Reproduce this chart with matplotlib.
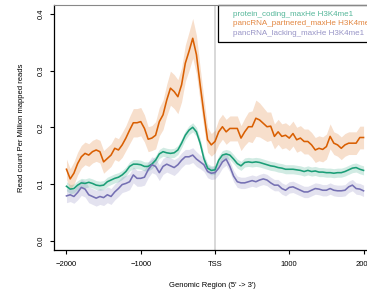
import numpy as np
import matplotlib.pyplot as plt
from matplotlib.patches import Rectangle

plt.rcParams['font.family'] = ['Liberation Sans', 'DejaVu Sans']

# genomic position relative to TSS, 50 bp steps
pos = list(range(-2000, 2001, 50))

partnered = [0.126, 0.109, 0.119, 0.136, 0.148, 0.154, 0.151, 0.157, 0.160, 0.157,
             0.139, 0.145, 0.151, 0.163, 0.160, 0.169, 0.181, 0.195, 0.208, 0.208,
             0.210, 0.198, 0.179, 0.181, 0.186, 0.210, 0.222, 0.248, 0.269, 0.263,
             0.254, 0.275, 0.313, 0.334, 0.357, 0.328, 0.275, 0.225, 0.178, 0.169,
             0.175, 0.192, 0.201, 0.192, 0.198, 0.198, 0.198, 0.181, 0.192, 0.201,
             0.201, 0.216, 0.213, 0.207, 0.201, 0.202, 0.184, 0.192, 0.184, 0.186,
             0.181, 0.189, 0.178, 0.181, 0.175, 0.175, 0.169, 0.160, 0.163, 0.161,
             0.166, 0.184, 0.172, 0.169, 0.163, 0.169, 0.172, 0.172, 0.172, 0.182,
             0.182]
partnered_err = [0.018, 0.018, 0.020, 0.020, 0.020, 0.020, 0.020, 0.020, 0.020, 0.020,
                 0.020, 0.020, 0.020, 0.020, 0.020, 0.022, 0.022, 0.024, 0.025, 0.025,
                 0.025, 0.024, 0.022, 0.022, 0.024, 0.025, 0.026, 0.028, 0.030, 0.030,
                 0.030, 0.030, 0.032, 0.034, 0.035, 0.034, 0.030, 0.026, 0.022, 0.020,
                 0.020, 0.022, 0.022, 0.022, 0.022, 0.022, 0.022, 0.022, 0.024, 0.026,
                 0.028, 0.032, 0.030, 0.028, 0.026, 0.025, 0.022, 0.022, 0.022, 0.022,
                 0.022, 0.022, 0.022, 0.022, 0.022, 0.022, 0.022, 0.022, 0.022, 0.022,
                 0.022, 0.022, 0.020, 0.020, 0.020, 0.020, 0.020, 0.020, 0.020, 0.020,
                 0.020]

coding = [0.096, 0.091, 0.092, 0.098, 0.102, 0.101, 0.103, 0.101, 0.098, 0.097,
          0.098, 0.104, 0.107, 0.110, 0.112, 0.116, 0.122, 0.131, 0.135, 0.135,
          0.134, 0.131, 0.131, 0.135, 0.142, 0.153, 0.157, 0.155, 0.154, 0.155,
          0.160, 0.172, 0.186, 0.195, 0.200, 0.192, 0.172, 0.145, 0.128, 0.124,
          0.125, 0.142, 0.151, 0.153, 0.151, 0.144, 0.136, 0.132, 0.138, 0.139,
          0.138, 0.139, 0.138, 0.136, 0.134, 0.132, 0.131, 0.129, 0.128, 0.126,
          0.126, 0.126, 0.125, 0.124, 0.122, 0.124, 0.122, 0.123, 0.121, 0.121,
          0.120, 0.120, 0.119, 0.120, 0.120, 0.122, 0.125, 0.128, 0.129, 0.126,
          0.124]
coding_err = [0.008] * 81

lacking = [0.079, 0.081, 0.078, 0.085, 0.094, 0.091, 0.081, 0.078, 0.075, 0.078,
           0.076, 0.081, 0.078, 0.086, 0.092, 0.099, 0.101, 0.104, 0.116, 0.110,
           0.110, 0.112, 0.125, 0.134, 0.131, 0.120, 0.131, 0.135, 0.132, 0.129,
           0.134, 0.142, 0.148, 0.148, 0.151, 0.144, 0.139, 0.134, 0.122, 0.119,
           0.120, 0.128, 0.139, 0.144, 0.131, 0.114, 0.104, 0.102, 0.102, 0.104,
           0.106, 0.104, 0.107, 0.109, 0.107, 0.102, 0.098, 0.098, 0.092, 0.089,
           0.094, 0.095, 0.092, 0.089, 0.086, 0.086, 0.089, 0.092, 0.091, 0.089,
           0.089, 0.092, 0.089, 0.088, 0.088, 0.089, 0.095, 0.098, 0.092, 0.091,
           0.088]
lacking_err = [0.012, 0.012, 0.012, 0.013, 0.014, 0.014, 0.014, 0.014, 0.014, 0.014,
               0.014, 0.014, 0.014, 0.014, 0.014, 0.014, 0.014, 0.014, 0.014, 0.014,
               0.014, 0.014, 0.014, 0.014, 0.014, 0.014, 0.014, 0.014, 0.014, 0.014,
               0.013, 0.013, 0.013, 0.013, 0.013, 0.013, 0.012, 0.012, 0.011, 0.011,
               0.011, 0.011, 0.011, 0.011, 0.010, 0.010, 0.010, 0.010, 0.010, 0.010,
               0.010, 0.010, 0.010, 0.010, 0.010, 0.010, 0.010, 0.010, 0.010, 0.010,
               0.010, 0.010, 0.010, 0.010, 0.010, 0.010, 0.010, 0.010, 0.010, 0.010,
               0.010, 0.010, 0.010, 0.010, 0.010, 0.010, 0.010, 0.010, 0.010, 0.010,
               0.010]

labels = ['protein_coding_maxHe H3K4me1',
          'pancRNA_partnered_maxHe H3K4me1',
          'pancRNA_lacking_maxHe H3K4me1']
colors = ['#1b9e77', '#d95f02', '#7570b3']

x_ticks = [-2000, -1000, 0, 1000, 2000]
x_ticklabels = ['\u22122000', '\u22121000', 'TSS', '1000', '2000']
y_ticks = [0.0, 0.1, 0.2, 0.3, 0.4]

fig = plt.figure(figsize=(3.67, 2.96), dpi=100)
ax = fig.add_axes([54 / 367, 46 / 296, 316 / 367, 245 / 296])

series = [(coding, coding_err), (partnered, partnered_err), (lacking, lacking_err)]
x = np.array(pos)
for (vals, err), col in zip(series, colors):
    v = np.array(vals)
    e = np.array(err)
    ax.fill_between(x, v - e, v + e, color=col, alpha=0.2, lw=0)
for (vals, err), col in zip(series, colors):
    ax.plot(x, vals, color=col, lw=1.15)

ax.axvline(0, color='#d6d6d6', lw=1.3, zorder=0)

ax.set_xlim(-2168, 2087)
ax.set_ylim(-0.0164, 0.4157)

ax.set_xticks(x_ticks)
ax.set_xticklabels(x_ticklabels)
ax.set_yticks(y_ticks)
ax.set_yticklabels(['%.1f' % t for t in y_ticks], rotation=90, va='center')
ax.tick_params(labelsize=5.5, length=3, width=0.8)
ax.tick_params(axis='x', pad=5)
ax.tick_params(axis='y', pad=4)

ax.spines['right'].set_visible(False)
ax.spines['top'].set_color('#888888')
ax.spines['left'].set_linewidth(0.9)
ax.spines['bottom'].set_linewidth(0.9)

ax.set_xlabel("Genomic Region (5' -> 3')", fontsize=5.5, labelpad=10)
ax.set_ylabel('Read count Per Million mapped reads', fontsize=5.5, labelpad=9)

# legend box drawn by hand so it can run off the right edge like the original
lx = (218 - 54) / 316
ax.add_patch(Rectangle((lx, 0.848), 0.6, 0.152, transform=ax.transAxes,
                       fill=False, edgecolor='black', lw=0.9, clip_on=False))
for i, (lab, col) in enumerate(zip(labels, colors)):
    ax.text((233 - 54) / 316, 0.963 - i * 0.039, lab, transform=ax.transAxes,
            color=col, alpha=0.75, fontsize=5.8, va='center', ha='left')

fig.savefig('out.png', dpi=100)
